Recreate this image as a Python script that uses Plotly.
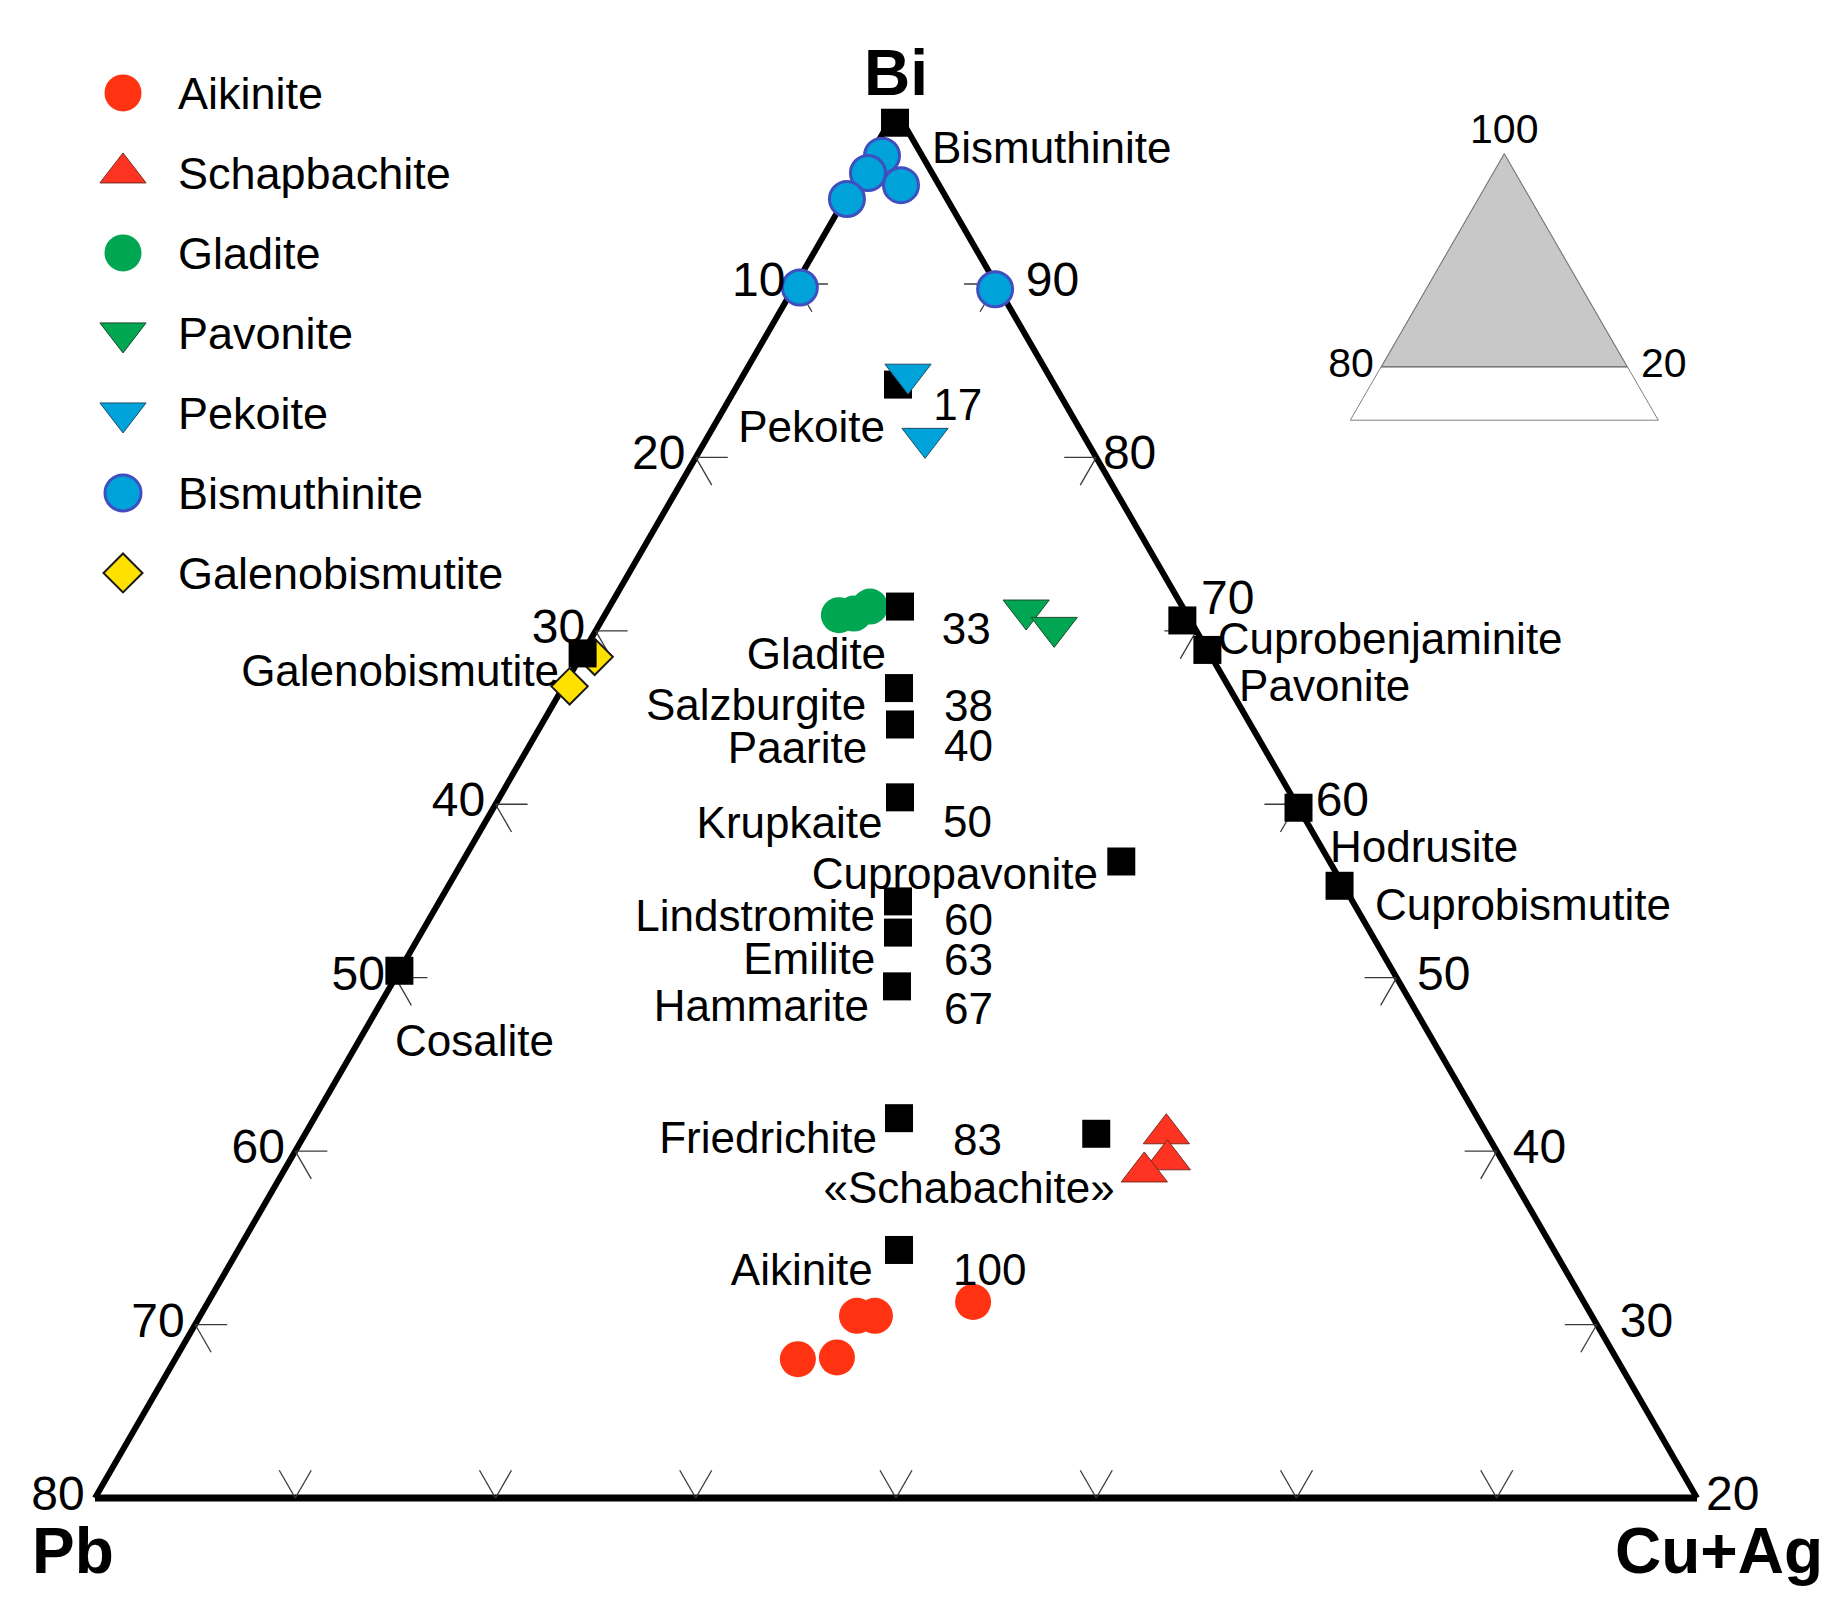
import plotly.graph_objects as go

FONT = "Liberation Sans, Arial, Helvetica, sans-serif"

# ---------------------------------------------------------------- axes
APEX_TITLE = "Bi"
LEFT_TITLE = "Pb"
RIGHT_TITLE = "Cu+Ag"
TOTAL = 100
BI_MIN = 20

LEFT_TICKS = [10, 20, 30, 40, 50, 60, 70]            # Pb along the left edge
LEFT_TICK_LABELS = [10, 20, 30, 40, 50, 60, 70, 80]
RIGHT_TICKS = [90, 80, 70, 60, 50, 40, 30]           # Bi along the right edge
RIGHT_TICK_LABELS = [90, 80, 70, 60, 50, 40, 30, 20]
BOTTOM_TICKS = [10, 20, 30, 40, 50, 60, 70]          # Cu+Ag along the base

# ---------------------------------------------------------------- end-members (black squares)
EM_NAMES = ["Bismuthinite", "Pekoite", "Gladite", "Salzburgite", "Paarite", "Krupkaite",
            "Cupropavonite", "Lindstromite", "Emilite", "Hammarite", "Friedrichite",
            "«Schabachite»", "Aikinite", "Galenobismutite", "Cosalite",
            "Cuprobenjaminite", "Pavonite", "Hodrusite", "Cuprobismutite"]
EM_BI = [99.3, 84.2, 71.4, 66.7, 64.6, 60.4, 56.7, 54.4, 52.6, 49.5, 41.9, 41.0, 34.3,
         68.7, 50.4, 70.6, 68.9, 59.8, 55.3]
EM_PB = [0.4, 7.8, 14.1, 16.5, 17.5, 19.6, 10.4, 22.7, 23.6, 25.2, 28.9, 19.5, 32.7,
         31.3, 49.6, 0.4, 0.0, 0.0, 0.2]
EM_CU = [0.3, 8.0, 14.5, 16.8, 17.9, 20.0, 32.9, 22.9, 23.8, 25.3, 29.2, 39.5, 33.0,
         0.0, 0.0, 29.0, 31.1, 40.2, 44.5]

# ---------------------------------------------------------------- analysed samples
AIK_BI = [31.3, 30.5, 30.5, 28.0, 28.1]
AIK_PB = [30.5, 36.7, 35.8, 40.9, 38.9]
AIK_CU = [38.2, 32.8, 33.7, 31.1, 33.0]

SCH_BI = [41.0, 39.5, 38.8]
SCH_PB = [16.0, 16.7, 18.2]
SCH_CU = [43.0, 43.8, 43.0]

GLA_BI = [70.9, 71.0, 71.4]
GLA_PB = [17.4, 16.6, 15.6]
GLA_CU = [11.7, 12.4, 13.0]

PAV_BI = [71.2, 70.2]
PAV_PB = [7.9, 7.0]
PAV_CU = [20.9, 22.8]

PEK_BI = [84.8, 81.1]
PEK_PB = [7.0, 8.0]
PEK_CU = [8.2, 10.9]

BIS_BI = [97.4, 96.4, 95.7, 94.9, 89.8, 89.7]
BIS_PB = [2.0, 3.2, 1.9, 5.0, 9.9, 0.2]
BIS_CU = [0.6, 0.4, 2.4, 0.1, 0.3, 10.1]

GAL_BI = [68.5, 66.8]
GAL_PB = [30.8, 32.9]
GAL_CU = [0.7, 0.3]

LEGEND_NAMES = ["Aikinite", "Schapbachite", "Gladite", "Pavonite", "Pekoite",
                "Bismuthinite", "Galenobismutite"]

# inset: the part of the full triangle that is shown
INSET_BI_MIN = 20

# ---------------------------------------------------------------- styles
STYLE = {
    "Aikinite": dict(symbol="circle", size=36, color="#FF3311", line=dict(width=0)),
    "Schapbachite": dict(symbol="triangle-up", size=40, color="#FF3322",
                         line=dict(width=1, color="#7a2a20")),
    "Gladite": dict(symbol="circle", size=36, color="#00A651", line=dict(width=0)),
    "Pavonite": dict(symbol="triangle-down", size=40, color="#00A651",
                     line=dict(width=1, color="#1d4a2c")),
    "Pekoite": dict(symbol="triangle-down", size=40, color="#00A3D9",
                    line=dict(width=1, color="#1f4d66")),
    "Bismuthinite": dict(symbol="circle", size=35, color="#00A3D9",
                         line=dict(width=3, color="#3F4FBF")),
    "Galenobismutite": dict(symbol="diamond", size=28, color="#FFE100",
                            line=dict(width=2, color="#1a1a1a")),
}
LEGEND_SIZE = {"Aikinite": 37, "Schapbachite": 40, "Gladite": 37, "Pavonite": 40,
               "Pekoite": 40, "Bismuthinite": 36, "Galenobismutite": 30}

# label placements (text anchors, ternary coords) - positions only
INNER_LABELS = [
    ("Pekoite", 81.53, 9.78, 8.68, "middle left"),
    ("17", 82.79, 6.74, 10.47, "middle right"),
    ("Gladite", 68.41, 16.29, 15.30, "middle left"),
    ("33", 69.86, 12.78, 17.36, "middle right"),
    ("Salzburgite", 65.52, 18.73, 15.75, "middle left"),
    ("38", 65.42, 14.89, 19.69, "middle right"),
    ("Paarite", 63.01, 19.93, 17.06, "middle left"),
    ("40", 63.11, 16.05, 20.84, "middle right"),
    ("Krupkaite", 58.67, 21.34, 19.99, "middle left"),
    ("50", 58.77, 18.27, 22.96, "middle right"),
    ("Cupropavonite", 55.77, 12.03, 32.20, "middle left"),
    ("Lindstromite", 53.30, 24.40, 22.30, "middle left"),
    ("60", 53.10, 21.05, 25.85, "middle right"),
    ("Emilite", 50.82, 25.63, 23.55, "middle left"),
    ("63", 50.76, 22.22, 27.02, "middle right"),
    ("Hammarite", 48.15, 27.28, 24.57, "middle left"),
    ("67", 47.96, 23.62, 28.42, "middle right"),
    ("Friedrichite", 40.53, 30.69, 28.78, "middle left"),
    ("83", 40.43, 26.94, 32.63, "middle right"),
    ("«Schabachite»", 37.64, 27.53, 34.83, "middle center"),
    ("Aikinite", 32.91, 34.71, 32.38, "middle left"),
    ("100", 32.91, 30.70, 36.39, "middle right"),
    ("Cosalite", 46.12, 51.96, 1.92, "middle right"),
]
# labels that sit outside an edge: anchor on the edge, offset set by a hidden marker
EDGE_LABELS = [
    ("Bismuthinite", 97.64, 0.0, 2.36, "middle right", 18),
    ("Galenobismutite", 67.45, 32.55, 0.0, "middle left", 16),
    ("Cuprobenjaminite", 69.28, 0.0, 30.72, "middle right", 21),
    ("Pavonite", 66.58, 0.0, 33.42, "middle right", 12),
    ("Hodrusite", 57.32, 0.0, 42.68, "middle right", 9),
    ("Cuprobismutite", 53.94, 0.0, 46.06, "middle right", 27),
]
# offsets (hidden-marker sizes) and positions of the right-edge tick labels
RIGHT_LABEL_OFFSET = [46, 9, 6, 29, 31, 24, 35, 13]
RIGHT_LABEL_POS = ["middle right", "middle right", "top right", "middle right",
                   "middle right", "middle right", "middle right", "middle right"]

LABEL_FONT = dict(family=FONT, size=44, color="black")
TICK_FONT = dict(family=FONT, size=48, color="black")
TITLE_FONT = dict(family=FONT, size=64, color="black", weight="bold")
TICK_LEN = 1.6
HIDDEN = "rgba(0,0,0,0)"

fig = go.Figure()

# ---------------------------------------------------------------- tick marks
ta, tb, tc = [], [], []
for p in LEFT_TICKS:
    bi = TOTAL - p
    ta += [bi, bi, None, bi, bi - TICK_LEN, None]
    tb += [p, p - TICK_LEN, None, p, p, None]
    tc += [0, TICK_LEN, None, 0, TICK_LEN, None]
for q in RIGHT_TICKS:
    cu = TOTAL - q
    ta += [q, q, None, q, q - TICK_LEN, None]
    tb += [0, TICK_LEN, None, 0, TICK_LEN, None]
    tc += [cu, cu - TICK_LEN, None, cu, cu, None]
for cv in BOTTOM_TICKS:
    pb = TOTAL - BI_MIN - cv
    ta += [BI_MIN, BI_MIN + TICK_LEN, None, BI_MIN, BI_MIN + TICK_LEN, None]
    tb += [pb, pb - TICK_LEN, None, pb, pb, None]
    tc += [cv, cv, None, cv, cv - TICK_LEN, None]
fig.add_trace(go.Scatterternary(a=ta, b=tb, c=tc, mode="lines", connectgaps=False,
                                line=dict(color="#3a3a3a", width=1.3),
                                hoverinfo="skip", showlegend=False))


def add_series(name, a, b, c):
    st = STYLE[name]
    fig.add_trace(go.Scatterternary(
        a=a, b=b, c=c, mode="markers", name=name, cliponaxis=False, showlegend=False,
        marker=dict(symbol=st["symbol"], size=st["size"], color=st["color"], line=st["line"])))


add_series("Aikinite", AIK_BI, AIK_PB, AIK_CU)
add_series("Gladite", GLA_BI, GLA_PB, GLA_CU)
add_series("Galenobismutite", GAL_BI, GAL_PB, GAL_CU)
add_series("Bismuthinite", BIS_BI, BIS_PB, BIS_CU)

# end-member squares
fig.add_trace(go.Scatterternary(
    a=EM_BI, b=EM_PB, c=EM_CU, mode="markers", text=EM_NAMES, name="end-members",
    cliponaxis=False, showlegend=False,
    marker=dict(symbol="square", size=28, color="black", line=dict(width=0))))

add_series("Schapbachite", SCH_BI, SCH_PB, SCH_CU)
add_series("Pavonite", PAV_BI, PAV_PB, PAV_CU)
add_series("Pekoite", PEK_BI, PEK_PB, PEK_CU)

# ---------------------------------------------------------------- text labels
fig.add_trace(go.Scatterternary(
    a=[l[1] for l in INNER_LABELS], b=[l[2] for l in INNER_LABELS],
    c=[l[3] for l in INNER_LABELS], text=[l[0] for l in INNER_LABELS],
    textposition=[l[4] for l in INNER_LABELS], mode="text", textfont=LABEL_FONT,
    cliponaxis=False, hoverinfo="skip", showlegend=False))
fig.add_trace(go.Scatterternary(
    a=[l[1] for l in EDGE_LABELS], b=[l[2] for l in EDGE_LABELS],
    c=[l[3] for l in EDGE_LABELS], text=[l[0] for l in EDGE_LABELS],
    textposition=[l[4] for l in EDGE_LABELS], mode="markers+text", textfont=LABEL_FONT,
    marker=dict(size=[l[5] for l in EDGE_LABELS], color=HIDDEN,
                line=dict(width=0, color=HIDDEN)),
    cliponaxis=False, hoverinfo="skip", showlegend=False))

# apex title
fig.add_trace(go.Scatterternary(
    a=[TOTAL], b=[0], c=[0], text=[APEX_TITLE], mode="text", textposition="top center",
    textfont=TITLE_FONT, cliponaxis=False, hoverinfo="skip", showlegend=False))

# tick labels (left edge shows Pb, right edge shows Bi)
fig.add_trace(go.Scatterternary(
    a=[TOTAL - v for v in LEFT_TICK_LABELS], b=LEFT_TICK_LABELS,
    c=[0] * len(LEFT_TICK_LABELS), text=[str(v) for v in LEFT_TICK_LABELS],
    mode="markers+text", textposition="middle left", textfont=TICK_FONT,
    marker=dict(size=15, color=HIDDEN, line=dict(width=0, color=HIDDEN)),
    cliponaxis=False, hoverinfo="skip", showlegend=False))
fig.add_trace(go.Scatterternary(
    a=RIGHT_TICK_LABELS, b=[0] * len(RIGHT_TICK_LABELS),
    c=[TOTAL - v for v in RIGHT_TICK_LABELS], text=[str(v) for v in RIGHT_TICK_LABELS],
    mode="markers+text", textposition=RIGHT_LABEL_POS, textfont=TICK_FONT,
    marker=dict(size=RIGHT_LABEL_OFFSET, color=HIDDEN, line=dict(width=0, color=HIDDEN)),
    cliponaxis=False, hoverinfo="skip", showlegend=False))

# ---------------------------------------------------------------- inset
ins_rest = TOTAL - INSET_BI_MIN
fig.add_trace(go.Scatterternary(
    subplot="ternary2", a=[TOTAL, INSET_BI_MIN, INSET_BI_MIN, TOTAL],
    b=[0, ins_rest, 0, 0], c=[0, 0, ins_rest, 0], mode="lines", fill="toself",
    fillcolor="#c8c8c8", line=dict(color="#5e5e5e", width=1.2),
    hoverinfo="skip", showlegend=False))
INSET_FONT = dict(family=FONT, size=41, color="black")
fig.add_trace(go.Scatterternary(
    subplot="ternary2", a=[TOTAL], b=[0], c=[0], text=[str(TOTAL)], mode="text",
    textposition="top center", textfont=INSET_FONT, cliponaxis=False,
    hoverinfo="skip", showlegend=False))
fig.add_trace(go.Scatterternary(
    subplot="ternary2", a=[INSET_BI_MIN, INSET_BI_MIN], b=[ins_rest, 0], c=[0, ins_rest],
    text=[str(ins_rest), str(INSET_BI_MIN)], mode="markers+text",
    textposition=["middle left", "middle right"], textfont=INSET_FONT,
    marker=dict(size=[10, 20], color=HIDDEN, line=dict(width=0, color=HIDDEN)),
    cliponaxis=False, hoverinfo="skip", showlegend=False))

# ---------------------------------------------------------------- legend (drawn as a key)
LEG_X_MARK = 123
LEG_X_TEXT = 178
for i, name in enumerate(LEGEND_NAMES):
    st = STYLE[name]
    fig.add_trace(go.Scatter(
        x=[LEG_X_MARK], y=[i], mode="markers", xaxis="x", yaxis="y", cliponaxis=False,
        marker=dict(symbol=st["symbol"], size=LEGEND_SIZE[name], color=st["color"],
                    line=st["line"]), hoverinfo="skip", showlegend=False))
fig.add_trace(go.Scatter(
    x=[LEG_X_TEXT] * len(LEGEND_NAMES), y=[i + 0.06 for i in range(len(LEGEND_NAMES))],
    text=LEGEND_NAMES, mode="text", textposition="middle right",
    textfont=dict(family=FONT, size=45, color="black"), cliponaxis=False,
    hoverinfo="skip", showlegend=False))

# ---------------------------------------------------------------- layout
main_axis = dict(showgrid=False, showticklabels=False, linecolor="black", layer="below traces")
inset_axis = dict(showgrid=False, showticklabels=False, ticks="", linecolor="#808080",
                  linewidth=1, min=0, title=dict(text=""))

fig.update_layout(
    width=1844, height=1615,
    margin=dict(l=0, r=0, t=0, b=0),
    paper_bgcolor="white", plot_bgcolor="rgba(0,0,0,0)",
    showlegend=False, hovermode=False,
    font=dict(family=FONT, color="black"),
    ternary=dict(
        sum=TOTAL, bgcolor="white",
        domain=dict(x=[0.05152, 0.92028], y=[0.0720, 0.9320]),
        aaxis=dict(main_axis, min=BI_MIN, linewidth=6, ticks="",
                   title=dict(text="")),
        baxis=dict(main_axis, min=0, linewidth=7, ticks="outside", ticklen=19,
                   tickcolor=HIDDEN,
                   title=dict(text=LEFT_TITLE, font=TITLE_FONT)),
        caxis=dict(main_axis, min=0, linewidth=6, ticks="outside", ticklen=19,
                   tickcolor=HIDDEN,
                   title=dict(text=RIGHT_TITLE, font=TITLE_FONT)),
    ),
    ternary2=dict(
        sum=TOTAL, bgcolor="white",
        domain=dict(x=[0.73226, 0.89929], y=[0.7395, 0.9053]),
        aaxis=inset_axis, baxis=inset_axis, caxis=inset_axis,
    ),
    xaxis=dict(domain=[0, 0.3], range=[0, 553.2], visible=False, fixedrange=True),
    yaxis=dict(domain=[0.5957, 0.9920], range=[7, -1], visible=False, fixedrange=True),
)

fig.write_html("out.html", config={"displayModeBar": False},
               post_script="document.body.style.margin='0px';"
                           "document.body.style.overflow='hidden';")
